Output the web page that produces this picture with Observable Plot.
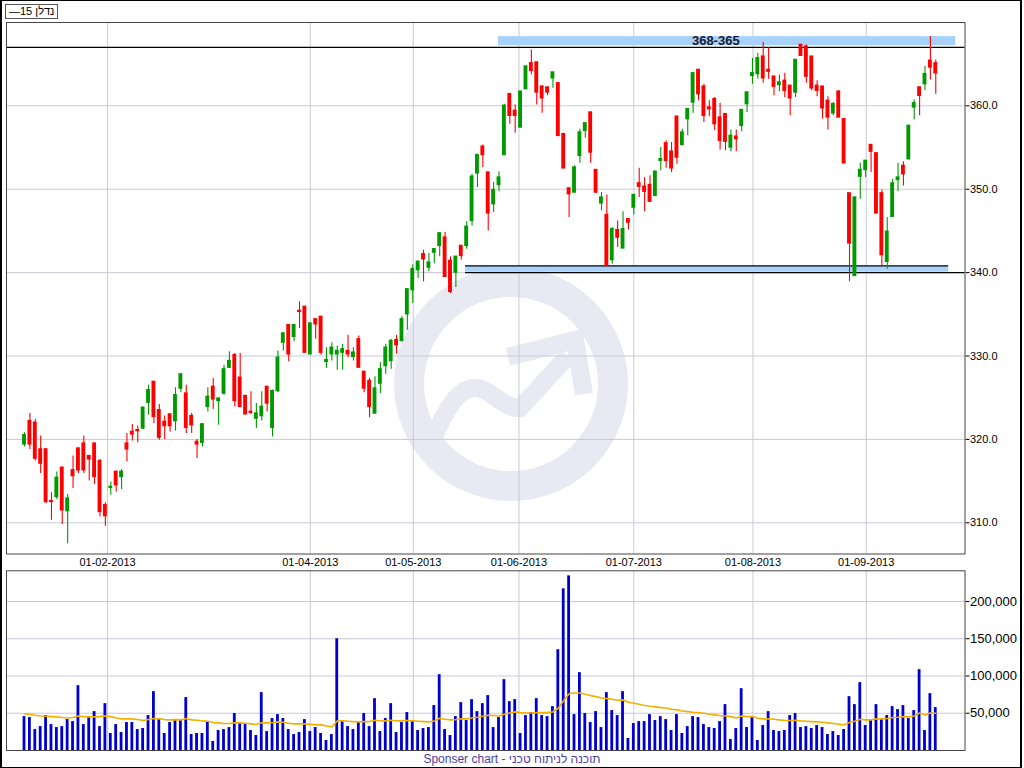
<!DOCTYPE html>
<html>
<head>
<meta charset="utf-8">
<script src="https://cdn.jsdelivr.net/npm/d3@7"></script>
<script src="https://cdn.jsdelivr.net/npm/@observablehq/plot@0.6"></script>
<style>
  html, body { margin: 0; padding: 0; background: #fff; }
  #page { position: relative; width: 1024px; height: 768px; overflow: hidden; font-family: "Liberation Sans", Arial, sans-serif; }
  .abs { position: absolute; }
  #border { left: 0; top: 0; width: 1022px; height: 768px; box-sizing: border-box; border-left: 2px solid #000; border-right: 2px solid #000; border-top: 1px solid #000; border-bottom: 1px solid #000; pointer-events: none; z-index: 5; }
  #legend { left: 5px; top: 4px; height: 13px; padding: 0 3px; border: 1px solid #555; background: #fff; font-size: 11px; line-height: 13px; color: #000; z-index: 3; }
  #caption { left: 0; top: 751px; width: 1024px; text-align: center; font-size: 12px; line-height: 16px; color: #4b3ea3; z-index: 3; }
</style>
</head>
<body>
<div id="page">
  <svg id="wm" class="abs" width="1024" height="768" style="left:0;top:0;z-index:0"></svg>
  <div id="price" class="abs" style="left:0;top:0;z-index:1"></div>
  <div id="volume" class="abs" style="left:0;top:566px;z-index:1"></div>
  <div id="legend" class="abs">—15 נדלן</div>
  <div id="caption" class="abs">Sponser chart - תוכנה לניתוח טכני</div>
  <div id="border" class="abs"></div>
</div>
<script>
// ---------- DATA ----------
const open = [
319.4,322.2,322.0,318.8,318.8,312.6,313.1,316.6,311.4,316.3,
318.9,319.5,318.0,319.5,317.4,312.1,314.2,316.1,315.5,319.5,
320.9,321.1,321.3,324.4,326.9,323.5,322.1,323.0,322.2,326.1,
325.5,322.8,319.7,319.6,323.9,326.3,324.6,325.5,328.6,330.1,
327.4,325.2,323.3,322.5,322.8,326.3,321.4,325.8,331.6,333.7,
332.3,335.4,335.9,330.2,334.4,334.7,329.3,330.2,330.2,330.4,
330.6,329.9,332.0,328.1,327.0,323.1,326.7,328.8,329.4,331.9,
331.8,335.0,337.9,340.3,342.2,340.6,342.4,343.2,344.2,341.4,
340.0,343.2,343.2,346.2,351.9,355.1,352.0,348.2,350.5,354.1,
361.4,359.4,357.4,362.0,365.1,365.2,362.3,362.2,363.3,362.7,
356.6,350.1,349.6,354.0,357.0,359.2,352.3,348.3,346.9,341.5,
345.1,342.9,346.4,347.8,350.7,350.3,350.5,349.2,353.4,355.5,
354.5,358.7,355.3,358.4,360.4,364.3,362.3,359.8,360.8,358.6,
359.0,355.0,356.3,357.6,360.2,363.6,363.8,365.9,364.3,363.5,
362.5,363.0,362.4,361.6,367.3,367.1,365.9,362.4,362.3,360.6,
359.1,361.7,358.4,349.5,339.6,351.5,352.3,355.3,354.3,349.5,
341.3,346.7,351.1,352.8,353.6,359.8,362.2,362.6,365.4,365.1];

const high = [
320.8,323.1,322.4,320.4,318.9,313.6,316.1,316.7,313.4,318.0,
319.0,320.4,318.0,319.5,317.6,312.4,314.9,316.2,316.4,320.7,
321.8,321.6,323.8,326.5,326.9,324.2,322.8,323.0,326.2,327.8,
326.5,323.1,320.0,321.9,326.2,327.3,324.9,328.9,330.5,330.3,
330.3,325.3,325.7,324.3,325.7,326.3,325.9,330.6,332.8,333.7,
333.8,336.5,335.9,333.9,334.4,334.7,331.0,331.6,331.2,331.4,
332.5,331.0,332.4,328.1,327.3,327.5,329.2,331.4,332.0,332.5,
334.7,338.0,340.9,341.4,342.7,342.3,342.8,344.8,344.8,341.9,
341.9,343.2,346.1,351.8,354.1,355.3,352.0,350.8,352.1,360.2,
361.4,360.1,361.7,364.8,366.7,365.2,362.4,362.2,364.0,362.7,
356.7,350.1,352.8,357.2,357.9,359.2,352.3,349.6,349.3,345.4,
346.2,347.3,346.5,349.4,352.5,351.4,351.6,352.1,355.0,355.8,
355.6,358.7,357.2,359.6,363.9,364.3,362.6,360.6,361.0,360.3,
359.0,357.1,357.1,359.5,361.6,365.7,366.3,367.6,367.0,363.5,
363.7,363.9,362.4,365.5,367.3,367.3,365.9,363.0,362.3,361.1,
360.4,361.8,358.4,349.5,349.0,353.1,353.4,355.3,354.3,349.9,
346.6,351.2,353.1,353.3,357.6,360.7,362.2,364.7,368.3,365.5];

const low = [
319.1,318.8,317.4,315.9,312.3,310.3,312.8,309.8,307.5,314.1,
315.9,315.9,315.0,314.6,310.7,309.6,313.3,313.7,314.0,317.3,
319.8,319.6,321.2,322.9,321.9,319.9,320.0,320.9,321.0,325.6,
320.7,320.7,317.7,319.1,323.3,323.6,321.7,325.3,328.5,323.9,
323.9,323.0,323.0,321.3,322.2,323.3,320.3,325.6,330.6,329.3,
331.7,333.3,330.4,330.2,332.0,330.1,328.5,329.4,328.3,328.3,
329.8,329.4,328.6,325.6,322.6,323.1,325.5,327.8,328.4,330.2,
331.7,333.1,336.3,339.3,338.9,340.1,341.1,341.9,339.5,337.5,
338.2,341.5,342.8,345.6,350.2,352.6,345.0,347.2,349.7,354.0,
357.8,356.7,357.4,362.0,363.7,360.1,359.1,361.2,362.1,356.3,
352.5,346.6,349.6,353.1,356.1,353.1,349.5,347.4,340.8,341.0,
343.0,342.9,345.1,346.9,349.0,347.3,348.5,349.2,352.2,352.5,
352.0,353.0,355.2,356.4,359.1,360.6,358.0,358.7,357.0,354.7,
354.6,354.5,354.5,356.9,359.2,362.6,363.2,362.7,363.2,361.2,
361.7,361.0,358.8,361.0,366.0,362.7,361.8,361.1,358.4,357.1,
358.8,358.6,353.1,338.9,339.6,348.8,351.4,352.0,347.1,340.8,
340.4,346.7,349.7,350.4,353.5,358.3,358.8,361.8,363.1,361.4];

const close = [
320.5,319.4,317.7,317.1,312.5,312.5,315.4,311.5,312.9,315.6,
316.3,316.3,317.6,315.5,311.3,310.8,314.3,314.5,316.1,318.8,
320.6,321.0,323.8,325.9,322.7,320.2,321.6,321.6,325.3,327.8,
321.4,321.7,319.4,321.8,325.1,324.8,324.9,328.4,329.4,324.6,
323.9,323.0,323.2,323.1,323.9,324.3,325.8,329.8,332.7,330.2,
333.7,335.3,330.4,333.9,333.8,330.4,329.5,331.0,330.6,330.8,
330.2,330.4,328.6,326.1,323.9,326.1,328.4,331.0,331.8,331.3,
334.4,338.0,340.4,341.3,341.6,341.2,342.8,344.7,339.5,337.7,
341.9,342.0,345.5,351.5,354.1,354.1,347.1,349.9,351.4,360.0,
358.8,358.8,361.7,364.7,364.2,361.6,360.9,361.6,364.0,356.4,
352.5,349.4,352.6,356.8,357.9,354.4,349.6,349.0,340.8,345.2,
344.2,345.2,346.0,349.3,350.3,349.7,348.5,352.1,353.6,353.4,
352.5,353.8,356.8,359.6,363.9,361.4,358.8,359.6,357.8,355.8,
355.7,356.4,356.0,359.5,361.6,363.9,365.7,363.3,364.1,362.3,
362.8,361.8,360.9,365.5,366.0,363.5,362.1,361.8,359.7,358.6,
360.2,358.6,353.1,343.5,349.0,352.3,353.4,354.5,347.1,342.1,
344.9,350.7,351.4,351.8,357.6,360.3,361.2,363.8,364.6,363.9];

const volume = [
45500,44200,28100,32100,46900,34800,30800,32100,41500,38800,
87000,34800,44200,52200,32100,62900,22800,34800,24100,37500,
37500,28100,29500,46900,79000,42900,22800,37500,41500,40200,
71000,21400,22800,22800,38800,12100,26800,28100,30800,49600,
37500,34800,26800,20100,77700,25400,42900,48200,42900,28100,
21400,24100,41500,25400,30800,22800,13400,21400,150000,40200,
32100,28100,37500,49600,32100,69600,25400,42900,62900,24100,
37500,50900,40200,26800,29500,30800,60300,101800,28100,20100,
45500,64300,40200,68300,52200,62900,73700,30800,44200,95100,
65600,68300,22800,46900,50900,69600,46900,45500,58900,135300,
217000,234400,48200,104500,49600,37500,52200,30800,77700,53600,
46900,79000,16100,36200,38800,38800,48200,40200,45500,41500,
26800,48200,22800,32100,45500,44200,34800,30800,29500,38800,
61600,14700,29500,83000,30800,44200,13400,33500,52200,26800,
25400,26800,46900,49600,30800,32100,29500,33500,30800,21400,
25400,20100,28100,72300,61600,91100,33500,41500,61600,41500,
46900,58900,54900,60300,42900,53600,108500,26800,76300,57600];

// volume average line (thousands)
const volumeAvgK = [
49.1,48.7,47.3,46.4,46.0,45.5,45.1,44.2,43.7,44.2,
46.4,45.5,45.1,45.1,45.5,46.4,45.5,43.7,42.4,42.4,
42.4,41.5,40.2,41.5,42.9,42.4,41.5,41.1,41.5,41.1,
42.9,41.1,40.6,39.7,39.3,37.5,37.1,36.2,36.2,37.1,
37.1,36.6,35.7,34.8,37.1,37.1,37.5,38.4,37.9,36.6,
35.7,35.7,35.7,35.3,34.4,34.4,33.0,31.7,39.7,39.7,
39.3,38.8,38.4,38.8,38.8,40.6,39.7,39.7,40.6,39.7,
39.7,40.2,39.7,39.3,38.8,38.4,39.7,43.3,41.9,41.1,
41.5,42.4,42.4,43.7,44.6,46.0,47.3,46.9,46.4,48.7,
50.4,51.8,50.9,50.4,50.4,50.9,50.9,50.9,51.8,56.7,
67.0,76.3,77.2,77.2,75.4,73.7,72.3,70.5,69.6,68.7,
67.4,67.9,64.7,63.4,62.0,60.5,59.4,58.5,57.6,57.1,
55.4,54.5,53.1,52.2,51.3,50.9,50.0,48.7,47.8,46.9,
46.4,45.5,43.7,46.4,45.5,45.5,43.3,42.4,42.4,41.9,
41.1,40.2,40.2,40.6,39.7,39.3,38.8,38.4,37.9,37.1,
36.2,35.3,34.4,37.5,39.3,42.0,41.1,41.1,42.4,42.4,
42.9,44.2,44.6,45.5,45.1,46.4,50.4,47.8,50.4,50.0];

// date ticks (position in trading-day index) and their labels
const dateTickPos = [15.4, 53.0, 72.1, 91.7, 113.0, 135.1, 156.1];
const dateTickLabels = ["01-02-2013","01-04-2013","01-05-2013","01-06-2013","01-07-2013","01-08-2013","01-09-2013"];
const priceTicks = [310, 320, 330, 340, 350, 360];
const volumeTicks = [50000, 100000, 150000, 200000];

// marked levels (price zones)
const zoneLabels = ["368-365", ""];
const zoneFrom = [87.9, 81.8];     // start (trading-day index)
const zoneTo = [172.7, 171.4];     // end (trading-day index)
const zoneLow = [367.2, 340.05];
const zoneHigh = [368.3, 340.75];
const zoneLabelAt = [128.2, null];
const levelLineY = [367.0, 340.8, 340.0];
const levelLineFrom = [-3.34, 81.8, 81.8];
const levelLineTo = [174.42, 171.4, 174.42];

// ---------- BUILD ----------
const candles = open.map((o, i) => ({
  i, open: o, high: high[i], low: low[i], close: close[i],
  volume: volume[i], avg: volumeAvgK[i] * 1000, up: close[i] >= o
}));
const zones = zoneLabels.map((label, k) => ({label, x1: zoneFrom[k], x2: zoneTo[k], y1: zoneLow[k], y2: zoneHigh[k], lx: zoneLabelAt[k]}));
const lines = levelLineY.map((y, k) => ({y, x1: levelLineFrom[k], x2: levelLineTo[k]}));

const GREEN = "#009a00", RED = "#ff0000", GRID = "#c9c9da";
const xDomain = [-3.34, 174.42];
const font = "'Liberation Sans', Arial, sans-serif";

const price = Plot.plot({
  width: 1024, height: 570,
  marginLeft: 6, marginRight: 59.5, marginTop: 22, marginBottom: 16.5,
  style: {background: "transparent", fontFamily: font, fontSize: "11px", color: "#000"},
  x: {type: "linear", domain: xDomain, axis: "bottom", ticks: dateTickPos,
      tickFormat: d => dateTickLabels[dateTickPos.indexOf(d)], tickSize: 0, tickPadding: 4, label: null},
  y: {domain: [306.26, 369.99], axis: "right", ticks: priceTicks,
      tickFormat: d => d.toFixed(1), tickSize: 4, tickPadding: 1, label: null},
  color: {type: "identity"},
  marks: [
    Plot.ruleX(dateTickPos, {stroke: GRID, strokeWidth: 1}),
    Plot.ruleY(priceTicks, {stroke: GRID, strokeWidth: 1}),
    Plot.rect(zones, {x1: "x1", x2: "x2", y1: "y1", y2: "y2", fill: "#a8d2fb"}),
    Plot.ruleY(lines, {y: "y", x1: "x1", x2: "x2", stroke: "#000", strokeWidth: 1.2}),
    Plot.text(zones.filter(z => z.label), {x: "lx", y: d => (d.y1 + d.y2) / 2, text: "label",
      fontSize: 13, fontWeight: "bold", fill: "#1a1a2a"}),
    Plot.ruleX(candles, {x: "i", y1: "low", y2: "high", stroke: d => d.up ? GREEN : RED, strokeWidth: 1.1}),
    Plot.rect(candles, {x1: d => d.i - 0.36, x2: d => d.i + 0.36, y1: "open", y2: "close",
      fill: d => d.up ? GREEN : RED, insetTop: -0.7, insetBottom: -0.7}),
    Plot.frame({stroke: "#444", strokeWidth: 1})
  ]
});
document.getElementById("price").appendChild(price);

const vol = Plot.plot({
  width: 1024, height: 202,
  marginLeft: 6, marginRight: 59.5, marginTop: 4.3, marginBottom: 18,
  style: {background: "transparent", fontFamily: font, fontSize: "13px", color: "#000"},
  x: {type: "linear", domain: xDomain, axis: null},
  y: {domain: [0, 241200], axis: "right", ticks: volumeTicks, tickFormat: d3.format(","),
      tickSize: 4, tickPadding: 1, label: null},
  marks: [
    Plot.ruleX(dateTickPos, {stroke: GRID, strokeWidth: 1}),
    Plot.ruleY(volumeTicks, {stroke: GRID, strokeWidth: 1}),
    Plot.rect(candles, {x1: d => d.i - 0.26, x2: d => d.i + 0.26, y1: 0, y2: "volume", fill: "#0000cc"}),
    Plot.line(candles, {x: "i", y: "avg", stroke: "#f2b000", strokeWidth: 1.6}),
    Plot.frame({stroke: "#444", strokeWidth: 1})
  ]
});
document.getElementById("volume").appendChild(vol);

// faint watermark logo
const wm = d3.select("#wm");
const wmc = "#e9e9f3";
wm.append("circle").attr("cx", 511).attr("cy", 384).attr("r", 102)
  .attr("fill", "none").attr("stroke", wmc).attr("stroke-width", 30);
wm.append("path")
  .attr("d", "M 433 440 C 445 410, 458 388, 475 388 C 490 388, 505 410, 520 408 L 568 356")
  .attr("fill", "none").attr("stroke", wmc).attr("stroke-width", 18);
wm.append("path")
  .attr("d", "M 508 357 L 575 340 L 584 394")
  .attr("fill", "none").attr("stroke", wmc).attr("stroke-width", 18).attr("stroke-linejoin", "miter");
</script>
</body>
</html>
